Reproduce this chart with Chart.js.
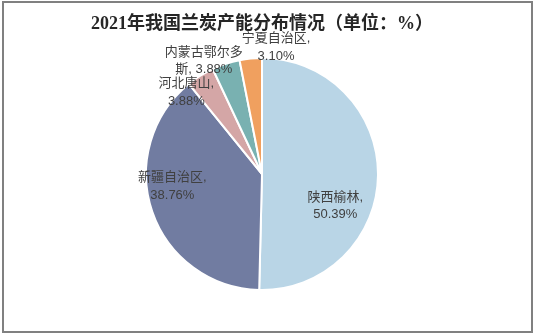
<!DOCTYPE html>
<html>
<head>
<meta charset="utf-8">
<script src="https://cdn.jsdelivr.net/npm/chart.js@4"></script>
<style>
  html, body { margin: 0; padding: 0; background: #ffffff; }
  #wrap { width: 536px; height: 336px; }
</style>
</head>
<body>
<div id="wrap"><canvas id="chart-pie" width="536" height="336"></canvas></div>
<script>
// 各地区兰炭产能占比
const regions = ["陕西榆林", "新疆自治区", "河北唐山", "内蒙古鄂尔多斯", "宁夏自治区"];
const shares = [50.39, 38.76, 3.88, 3.88, 3.10];
const sliceColors = ["#b9d5e6", "#717ca1", "#d4a6a6", "#79b1b1", "#f0a05f"];
const chartTitle = "2021年我国兰炭产能分布情况（单位：%）";
// 标签文字（分行）
const labelLines = [
  ["陕西榆林,", "50.39%"],
  ["新疆自治区,", "38.76%"],
  ["河北唐山,", "3.88%"],
  ["内蒙古鄂尔多", "斯, 3.88%"],
  ["宁夏自治区,", "3.10%"],
];
// 标签位置：半径比例 和 相对扇区中线的角度偏移（度）
const labelRadius = [0.69, 0.78, 0.96, 1.095, 1.10];
const labelShift = [23, 11, -10.7, -9.1, 11.9];

// 外框 + 标题（标题自己画，避免被 Chart.js 按区域宽度压缩）
const frame = {
  id: "frame",
  beforeDraw(chart) {
    const ctx = chart.ctx;
    ctx.save();
    ctx.strokeStyle = "#808080";
    ctx.lineWidth = 2;
    ctx.strokeRect(3, 2, 529, 330);
    ctx.fillStyle = "#262626";
    ctx.font = "bold 18px 'Liberation Serif', 'Noto Sans CJK SC', serif";
    ctx.textAlign = "center";
    ctx.textBaseline = "middle";
    const area = chart.chartArea;
    ctx.fillText(chartTitle, (area.left + area.right) / 2, 24.5);
    ctx.restore();
  },
};

// 数据标签
const sliceLabels = {
  id: "sliceLabels",
  afterDatasetsDraw(chart) {
    const ctx = chart.ctx;
    const arcs = chart.getDatasetMeta(0).data;
    ctx.save();
    ctx.fillStyle = "#404040";
    ctx.font = "13px 'Liberation Sans', 'Noto Sans CJK SC', sans-serif";
    ctx.textAlign = "center";
    ctx.textBaseline = "middle";
    arcs.forEach((arc, i) => {
      const p = arc.getProps(["x", "y", "startAngle", "endAngle", "outerRadius"], true);
      const a = (p.startAngle + p.endAngle) / 2 + (labelShift[i] * Math.PI) / 180;
      const r = p.outerRadius * labelRadius[i];
      const cx = p.x + Math.cos(a) * r;
      const cy = p.y + Math.sin(a) * r;
      const lines = labelLines[i];
      const lh = 17.5;
      lines.forEach((t, k) => {
        ctx.fillText(t, cx, cy + (k - (lines.length - 1) / 2) * lh);
      });
    });
    ctx.restore();
  },
};

new Chart(document.getElementById("chart-pie"), {
  type: "pie",
  data: {
    labels: regions,
    datasets: [
      {
        data: shares,
        backgroundColor: sliceColors,
        borderColor: "#ffffff",
        borderWidth: 2,
      },
    ],
  },
  options: {
    responsive: false,
    animation: false,
    layout: {
      padding: { top: 57, bottom: 45, left: 145, right: 157 },
    },
    plugins: {
      legend: { display: false },
      tooltip: { enabled: false },
      title: { display: false },
    },
  },
  plugins: [frame, sliceLabels],
});
</script>
</body>
</html>
